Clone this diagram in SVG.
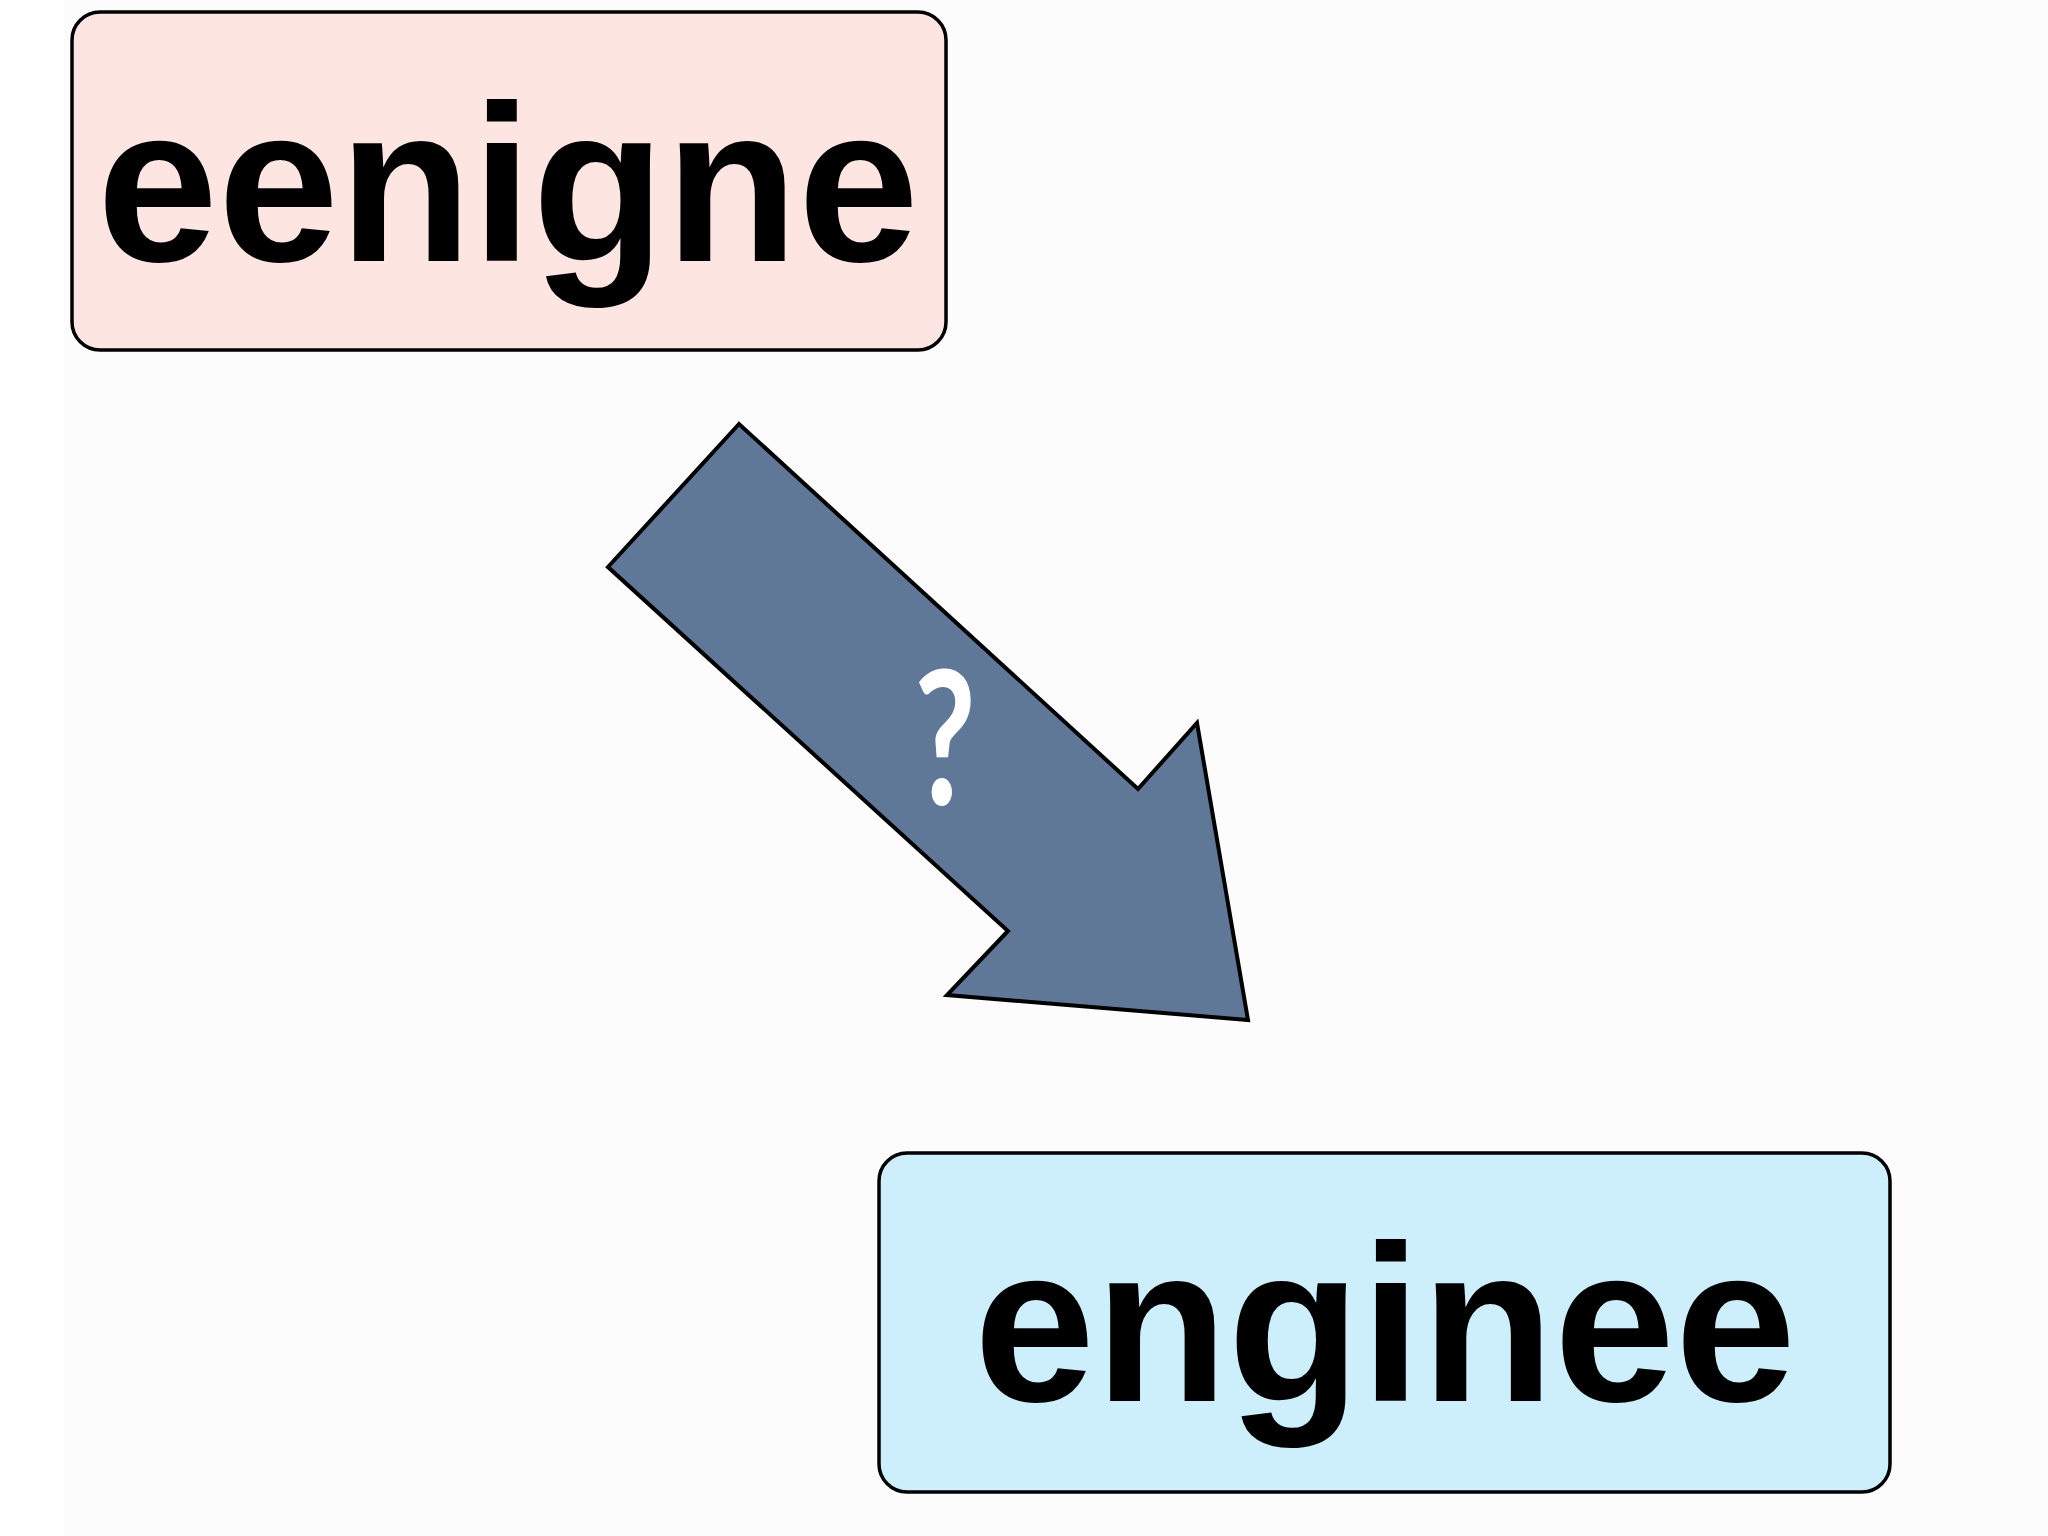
<svg xmlns="http://www.w3.org/2000/svg" width="2048" height="1536" viewBox="0 0 2048 1536">
<style>
.box{stroke:#000;stroke-width:3.5}
.word{font-family:"Liberation Sans",Arial,sans-serif;font-weight:bold;font-size:222px;fill:#000;text-anchor:middle}
.q{font-family:Lato,"Noto Sans",sans-serif;font-weight:bold;font-size:186px;fill:#fff;text-anchor:middle}
</style>
<rect x="0" y="0" width="2048" height="1536" fill="#ffffff"/>
<rect x="64" y="0" width="1984" height="1536" fill="#fcfcfc"/>
<g id="node-eenigne">
<rect class="box" x="72" y="12" width="874" height="338" rx="28" fill="#fde5e2"/>
<text class="word" x="508" y="261" textLength="822" lengthAdjust="spacingAndGlyphs">eenigne</text>
</g>
<g id="node-enginee">
<rect class="box" x="879" y="1153" width="1011" height="339" rx="28" fill="#cdeffc"/>
<text class="word" x="1385" y="1401" textLength="822" lengthAdjust="spacingAndGlyphs">enginee</text>
</g>
<g id="connectors">
<polygon points="739,424 608,567 1008,931 947,995 1248,1020 1197,723 1138,789" fill="#607898" stroke="#000" stroke-width="4" stroke-linejoin="miter"/>
<text class="q" transform="translate(945,805) scale(0.72,1)" x="0" y="0">?</text>
</g>
</svg>
